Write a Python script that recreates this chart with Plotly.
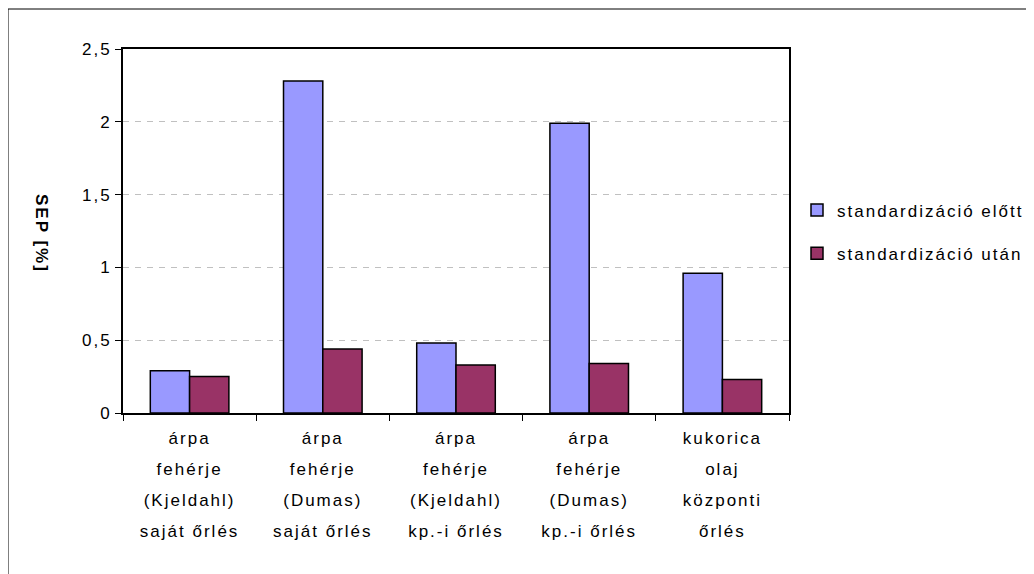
import plotly.graph_objects as go

# ---- data ----
category_lines = [
    ["árpa", "fehérje", "(Kjeldahl)", "saját őrlés"],
    ["árpa", "fehérje", "(Dumas)", "saját őrlés"],
    ["árpa", "fehérje", "(Kjeldahl)", "kp.-i őrlés"],
    ["árpa", "fehérje", "(Dumas)", "kp.-i őrlés"],
    ["kukorica", "olaj", "központi", "őrlés"],
]
before_values = [0.29, 2.28, 0.48, 1.99, 0.96]
after_values = [0.25, 0.44, 0.33, 0.34, 0.23]
series_names = ["standardizáció előtt", "standardizáció után"]
y_tick_values = [0, 0.5, 1, 1.5, 2, 2.5]
y_tick_labels = ["0", "0,5", "1", "1,5", "2", "2,5"]
y_title = "SEP [%]"

FONT = "Liberation Sans, Arial, sans-serif"
SP = "font-size:17px;letter-spacing:2px"


def styled(t):
    return f"<span style='{SP}'>{t}</span>"


categories = [" ".join(c) for c in category_lines]
cat_ticktext = ["<br>".join(styled(l) for l in c) for c in category_lines]

# page offset (body margin) and geometry in page pixels
OFF = 8
W, H = 1034 - OFF, 574 - OFF
PL, PR, PT, PB = 123, 789, 49, 413  # plot area edges in page pixels
L, R, T, B = PL - OFF, W - (PR - OFF), PT - OFF, H - (PB - OFF)
pw, ph = W - L - R, H - T - B


def px_x(p):
    return (p - PL) / pw


def px_y(p):
    return (PB - p) / ph


fig = go.Figure()
fig.add_trace(go.Bar(
    x=categories, y=before_values, name=styled(series_names[0]),
    marker=dict(color="#9999FF", line=dict(color="black", width=1.5)),
    legendgroup="a",
))
fig.add_trace(go.Bar(
    x=categories, y=after_values, name=styled(series_names[1]),
    marker=dict(color="#993366", line=dict(color="black", width=1.5)),
    legendgroup="b",
))

fig.update_layout(
    width=W, height=H,
    margin=dict(l=L, r=R, t=T, b=B, autoexpand=False),
    paper_bgcolor="white", plot_bgcolor="white",
    barmode="group", bargap=0.41, bargroupgap=0,
    separators=",.",
    font=dict(family=FONT, size=17, color="black"),
    showlegend=True,
    legend=dict(
        x=px_x(797), y=px_y(232), xanchor="left", yanchor="middle",
        traceorder="grouped", tracegroupgap=18,
        font=dict(family=FONT, size=17, color="black"),
        bgcolor="rgba(0,0,0,0)", itemclick=False,
    ),
    xaxis=dict(
        tickvals=categories, ticktext=cat_ticktext,
        tickson="boundaries", ticks="outside", ticklen=6, tickwidth=1,
        tickcolor="black",
        showline=True, linecolor="black", linewidth=2, mirror=True,
        showgrid=False,
        tickfont=dict(family=FONT, size=24, color="black"),
    ),
    yaxis=dict(
        range=[0, 2.5], tickvals=y_tick_values,
        ticktext=[styled(t) for t in y_tick_labels],
        ticks="outside", ticklen=6, tickwidth=1, tickcolor="black",
        showline=True, linecolor="black", linewidth=2, mirror=True,
        showgrid=True, gridcolor="#c0c0c0", gridwidth=1, griddash="6px,6px",
        zeroline=False,
        tickfont=dict(family=FONT, size=17, color="black"),
    ),
    annotations=[dict(
        text=f"<b><span style='letter-spacing:2px'>{y_title}</span></b>",
        xref="paper", yref="paper", x=px_x(42), y=px_y(233),
        xanchor="center", yanchor="middle", showarrow=False, textangle=90,
        font=dict(family=FONT, size=17, color="black"),
    )],
    shapes=[
        dict(type="line", xref="paper", yref="paper",
             x0=px_x(8), x1=px_x(1100), y0=px_y(9), y1=px_y(9),
             line=dict(color="black", width=1)),
        dict(type="line", xref="paper", yref="paper",
             x0=px_x(8), x1=px_x(8), y0=px_y(9), y1=px_y(620),
             line=dict(color="black", width=1)),
    ],
)

fig.write_html("out.html")
